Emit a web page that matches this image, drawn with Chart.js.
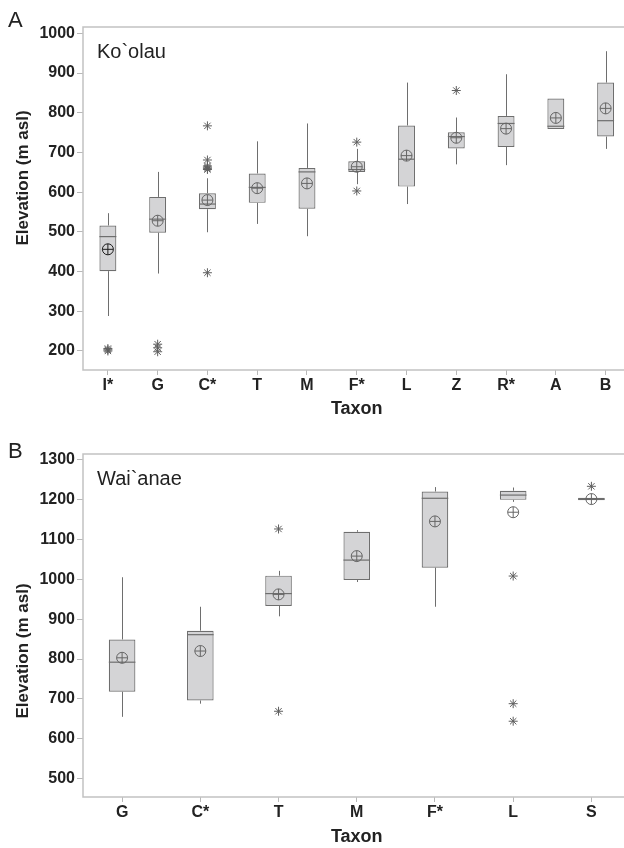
<!DOCTYPE html>
<html>
<head>
<meta charset="utf-8">
<script src="https://cdn.jsdelivr.net/npm/chart.js@4.4.0/dist/chart.umd.min.js"></script>
<style>
  html, body { margin: 0; padding: 0; background: #fff; overflow: hidden; }
  #wrap { width: 624px; height: 848px; overflow: hidden; position: relative; }
  .panel { position: absolute; left: 0; width: 637px; height: 424px; }
</style>
</head>
<body>
<div id="wrap">
  <div class="panel" style="top:0"><canvas id="chartA" width="637" height="424"></canvas></div>
  <div class="panel" style="top:424px"><canvas id="chartB" width="637" height="424"></canvas></div>
</div>
<script>
// --- panel A: Ko`olau ---
const taxaA = ['I*', 'G', 'C*', 'T', 'M', 'F*', 'L', 'Z', 'R*', 'A', 'B'];
const minA = [288, 395, 499, 520, 489, 620, 570, 670, 668, 759, 709];
const q1A = [401, 498, 557, 573, 558, 651, 614, 710, 714, 759, 740];
const medA = [488, 532, 570, 612, 651, 657, 683, 740, 773, 766, 780];
const q3A = [516, 588, 597, 647, 661, 678, 768, 751, 792, 836, 876];
const maxA = [547, 651, 635, 728, 773, 709, 876, 788, 897, 836, 955];
const meanA = [456, 528, 580, 610, 622, 664, 692, 737, 760, 787, 811];
const outliersA = [
  ['I*', 200], ['I*', 203], ['I*', 206],
  ['G', 217], ['G', 208], ['G', 198],
  ['C*', 767], ['C*', 681], ['C*', 666], ['C*', 663], ['C*', 660], ['C*', 657], ['C*', 397],
  ['F*', 726], ['F*', 603],
  ['Z', 856]
];
const yTicksA = [200, 300, 400, 500, 600, 700, 800, 900, 1000];

// --- panel B: Wai`anae ---
const taxaB = ['G', 'C*', 'T', 'M', 'F*', 'L', 'S'];
const minB = [655, 688, 907, 993, 931, 1194, 1198];
const q1B = [718, 696, 933, 998, 1029, 1199, 1198];
const medB = [792, 861, 964, 1048, 1203, 1211, 1201];
const q3B = [849, 871, 1009, 1119, 1220, 1222, 1204];
const maxB = [1005, 931, 1021, 1123, 1231, 1230, 1204];
const meanB = [803, 820, 962, 1058, 1145, 1168, 1201];
const outliersB = [
  ['T', 1126], ['T', 669],
  ['L', 1008], ['L', 688], ['L', 644],
  ['S', 1233]
];
const yTicksB = [500, 600, 700, 800, 900, 1000, 1100, 1200, 1300];

const FONT = '"Liberation Sans", Arial, sans-serif';
const LINE = '#6e6e6e';

// whiskers before the boxes, median lines right after them
const boxPlugin = {
  id: 'boxWhiskers',
  beforeDatasetsDraw(chart, args, opts) {
    const meta = chart.getDatasetMeta(0);
    const y = chart.scales.y;
    const ctx = chart.ctx;
    ctx.save();
    ctx.strokeStyle = LINE;
    ctx.lineWidth = 1;
    meta.data.forEach((bar, i) => {
      const x = Math.round(bar.x) + 0.5;
      ctx.beginPath();
      ctx.moveTo(x, y.getPixelForValue(opts.max[i]));
      ctx.lineTo(x, y.getPixelForValue(opts.q3[i]));
      ctx.moveTo(x, y.getPixelForValue(opts.q1[i]));
      ctx.lineTo(x, y.getPixelForValue(opts.min[i]));
      ctx.stroke();
    });
    ctx.restore();
  },
  afterDatasetDraw(chart, args, opts) {
    if (args.index !== 0) return;
    const y = chart.scales.y;
    const ctx = chart.ctx;
    ctx.save();
    ctx.strokeStyle = LINE;
    ctx.lineWidth = 1.2;
    args.meta.data.forEach((bar, i) => {
      const py = y.getPixelForValue(opts.med[i]);
      ctx.beginPath();
      ctx.moveTo(bar.x - bar.width / 2, py);
      ctx.lineTo(bar.x + bar.width / 2, py);
      ctx.stroke();
    });
    ctx.restore();
  }
};

// frame, panel letter, inside label and y title
const textPlugin = {
  id: 'panelText',
  afterDraw(chart, args, o) {
    const ctx = chart.ctx;
    const a = chart.chartArea;
    ctx.save();
    ctx.strokeStyle = '#c2c2c2';
    ctx.lineWidth = 1.5;
    ctx.strokeRect(a.left, a.top, a.right - a.left, a.bottom - a.top);
    ctx.fillStyle = '#222';
    ctx.font = '22px ' + FONT;
    ctx.fillText(o.letter, 8, o.letterY);
    ctx.font = '20px ' + FONT;
    ctx.fillText(o.inner, a.left + 14, o.innerY);
    ctx.translate(23, o.titleY);
    ctx.rotate(-Math.PI / 2);
    ctx.textAlign = 'center';
    ctx.textBaseline = 'middle';
    ctx.font = 'bold 17px ' + FONT;
    ctx.fillText('Elevation (m asl)', 0, 0);
    ctx.restore();
  }
};

function makeChart(canvas, taxa, min, q1, med, q3, max, mean, outliers, yTicks, yMin, yMax, xHeight, padTop, titlePad, text) {
  const meanColors = mean.map((v, i) => (taxa[i] === 'I*' ? '#1e1e1e' : '#666'));
  return new Chart(canvas, {
    type: 'bar',
    data: {
      labels: taxa,
      datasets: [
        {
          data: taxa.map((t, i) => [q1[i], q3[i]]),
          backgroundColor: '#d4d4d6',
          borderColor: LINE,
          borderWidth: 1.2,
          borderSkipped: false,
          barPercentage: 0.34,
          categoryPercentage: 1,
          grouped: false,
          order: 3
        },
        {
          type: 'line',
          data: mean,
          showLine: false,
          pointStyle: 'circle',
          pointRadius: 5.5,
          pointBackgroundColor: 'rgba(0,0,0,0)',
          pointBorderColor: meanColors,
          pointBorderWidth: 1,
          order: 1
        },
        {
          type: 'line',
          data: mean,
          showLine: false,
          pointStyle: 'cross',
          pointRadius: 5.5,
          pointBorderColor: meanColors,
          pointBorderWidth: 1,
          order: 1
        },
        {
          type: 'line',
          data: outliers.map(p => ({ x: p[0], y: p[1] })),
          showLine: false,
          pointStyle: 'star',
          pointRadius: 4.5,
          pointBorderColor: '#5e5e5e',
          pointBorderWidth: 1,
          order: 2
        }
      ]
    },
    options: {
      responsive: false,
      animation: false,
      devicePixelRatio: 1,
      // plot runs a few px past the right edge of the page, as in the original figure
      layout: { padding: { top: padTop, right: 1, left: 0, bottom: 0 } },
      plugins: {
        legend: { display: false },
        tooltip: { enabled: false },
        boxWhiskers: { min: min, q1: q1, med: med, q3: q3, max: max },
        panelText: text
      },
      scales: {
        x: {
          type: 'category',
          offset: true,
          afterFit: s => { s.height = xHeight; },
          grid: { drawOnChartArea: false, offset: false, tickLength: 5, color: '#b8b8b8' },
          border: { display: false },
          ticks: { font: { family: FONT, size: 16, weight: 'bold' }, color: '#222', padding: 1 },
          title: {
            display: true,
            text: 'Taxon',
            font: { family: FONT, size: 18, weight: 'bold' },
            color: '#222',
            padding: { top: 0, bottom: titlePad }
          }
        },
        y: {
          min: yMin,
          max: yMax,
          afterFit: s => { s.width = 83; },
          afterBuildTicks: s => { s.ticks = yTicks.map(v => ({ value: v })); },
          grid: { drawOnChartArea: false, tickLength: 6, color: '#b8b8b8' },
          border: { display: false },
          ticks: {
            font: { family: FONT, size: 16, weight: 'bold' },
            color: '#222',
            padding: 2,
            callback: v => String(v)
          }
        }
      }
    },
    plugins: [boxPlugin, textPlugin]
  });
}

makeChart(document.getElementById('chartA'), taxaA, minA, q1A, medA, q3A, maxA, meanA, outliersA,
  yTicksA, 152, 1016, 54, 27, 4,
  { letter: 'A', letterY: 27, inner: 'Ko`olau', innerY: 58, titleY: 178 });

makeChart(document.getElementById('chartB'), taxaB, minB, q1B, medB, q3B, maxB, meanB, outliersB,
  yTicksB, 454, 1314, 51, 30, 0,
  { letter: 'B', letterY: 34, inner: 'Wai`anae', innerY: 61, titleY: 227 });
</script>
</body>
</html>
